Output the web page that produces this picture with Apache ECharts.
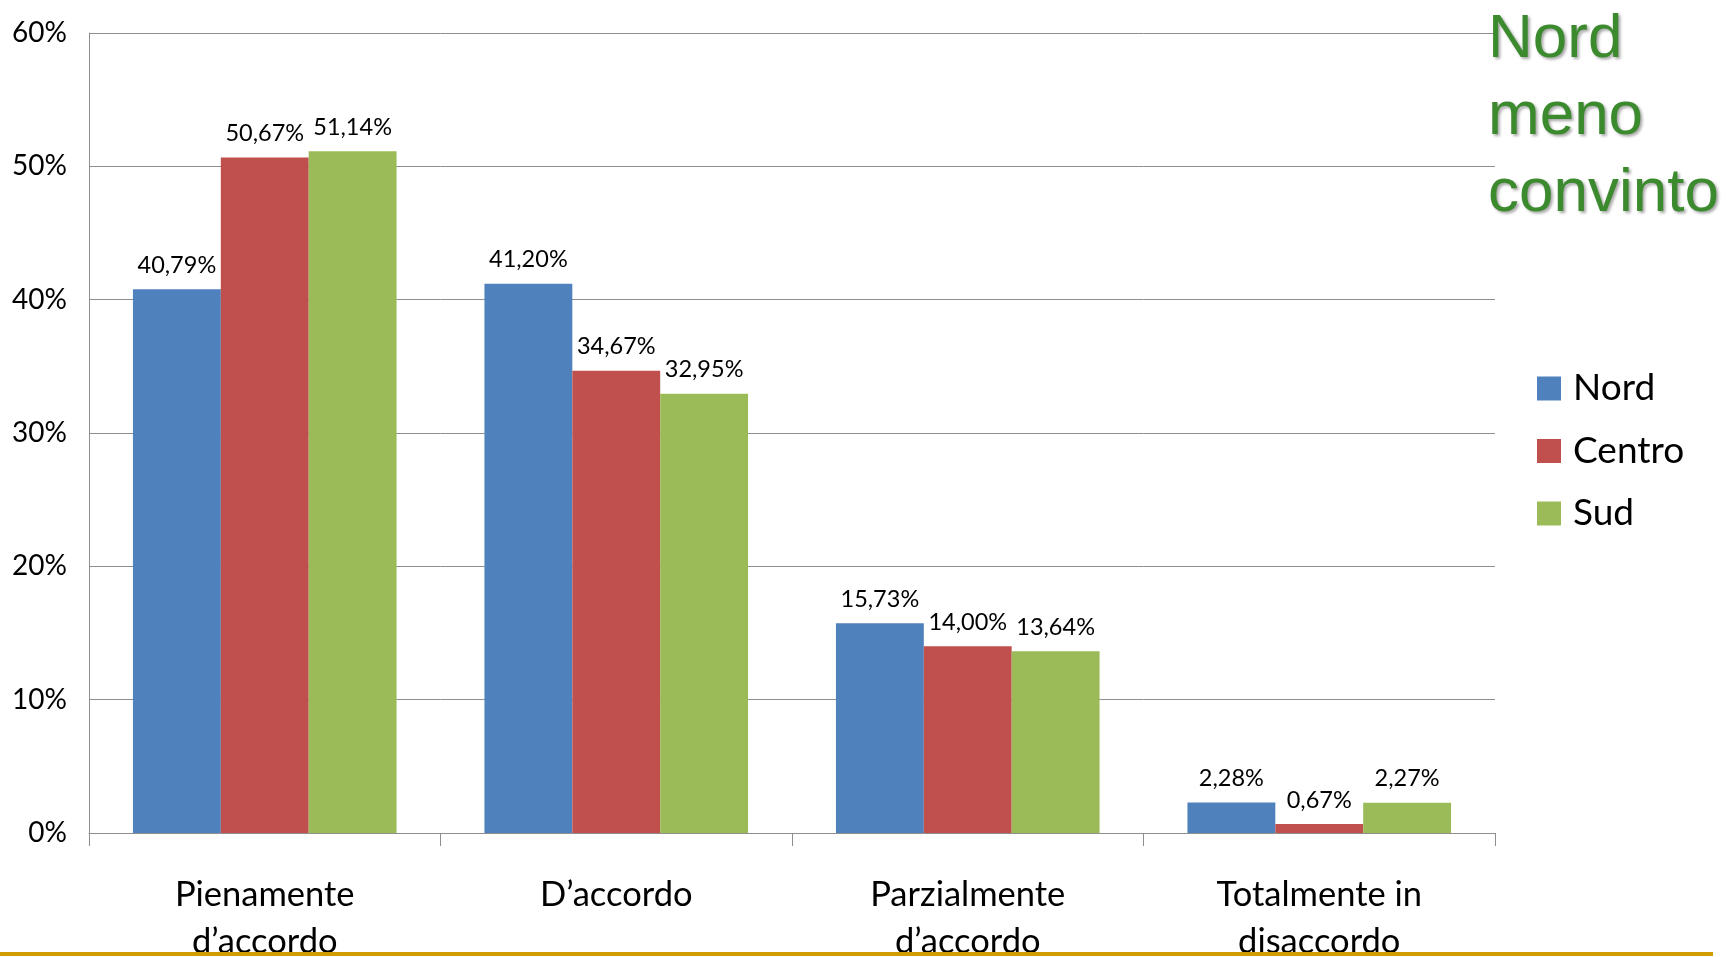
<!DOCTYPE html>
<html>
<head>
<meta charset="utf-8">
<script src="https://cdn.jsdelivr.net/npm/echarts@6/dist/echarts.min.js"></script>
<style>
html,body{margin:0;padding:0;background:#fff;}
#chart{width:1726px;height:957px;}
</style>
</head>
<body>
<div id="chart"></div>
<script>
const categories = ["Pienamente\nd\u2019accordo", "D\u2019accordo", "Parzialmente\nd\u2019accordo", "Totalmente in\ndisaccordo"];
const seriesNames = ["Nord", "Centro", "Sud"];
const nordValues = [40.79, 41.20, 15.73, 2.28];
const centroValues = [50.67, 34.67, 14.00, 0.67];
const sudValues = [51.14, 32.95, 13.64, 2.27];
const yTicks = [0, 10, 20, 30, 40, 50, 60];
const titleText = "Nord\nmeno\nconvinto";

const colors = ["#4F81BD", "#C0504D", "#9BBB59"];
const allValues = [nordValues, centroValues, sudValues];

const chart = echarts.init(document.getElementById('chart'), null, {renderer: 'canvas'});

const fmt = v => v.toFixed(2).replace('.', ',') + '%';

const option = {
  animation: false,
  backgroundColor: '#ffffff',
  title: {
    text: titleText,
    left: 1483,
    top: -4,
    textStyle: {
      fontFamily: '"Liberation Sans", Arial, sans-serif',
      fontSize: 62,
      fontWeight: 'normal',
      color: '#3C8A2E',
      lineHeight: 77,
      textShadowColor: 'rgba(0,0,0,0.35)',
      textShadowBlur: 3,
      textShadowOffsetX: 2,
      textShadowOffsetY: 2
    }
  },
  legend: {
    orient: 'vertical',
    left: 1532,
    top: 365,
    icon: 'rect',
    itemWidth: 24,
    itemHeight: 24,
    itemGap: 25.5,
    data: seriesNames,
    textStyle: {
      fontFamily: 'Lato, "Noto Sans", sans-serif',
      fontSize: 37,
      color: '#000',
      padding: [0, 0, 0, 7]
    }
  },
  grid: {
    left: 89,
    right: 231,
    top: 33,
    bottom: 124,
    containLabel: false,
    outerBoundsMode: 'none'
  },
  xAxis: {
    type: 'category',
    data: categories,
    axisLine: {show: true, lineStyle: {color: '#8E8E8E', width: 1}},
    axisTick: {show: true, length: 13, alignWithLabel: false, lineStyle: {color: '#8E8E8E'}},
    axisLabel: {
      margin: 38,
      fontFamily: 'Lato, "Noto Sans", sans-serif',
      fontSize: 34.5,
      color: '#000',
      lineHeight: 47.5,
      interval: 0
    },
    splitLine: {show: false}
  },
  yAxis: {
    type: 'value',
    min: yTicks[0],
    max: yTicks[yTicks.length - 1],
    interval: 10,
    axisLine: {show: true, lineStyle: {color: '#8E8E8E', width: 1}},
    axisTick: {show: false},
    axisLabel: {
      formatter: '{value}%',
      margin: 22,
      fontFamily: 'Lato, "Noto Sans", sans-serif',
      fontSize: 28,
      color: '#000'
    },
    splitLine: {show: true, lineStyle: {color: '#8E8E8E', width: 1}}
  },
  series: seriesNames.map((name, i) => ({
    name: name,
    type: 'bar',
    data: allValues[i],
    barGap: '0%',
    barCategoryGap: '25%',
    itemStyle: {color: colors[i]},
    label: {
      show: true,
      position: 'top',
      distance: 12,
      formatter: p => fmt(p.value),
      fontFamily: 'Lato, "Noto Sans", sans-serif',
      fontSize: 23.5,
      color: '#000'
    }
  })),
  graphic: [{
    type: 'rect',
    left: 0,
    top: 952,
    shape: {width: 1713, height: 4},
    style: {fill: '#D09C00'},
    z: 100
  }]
};
chart.setOption(option);
</script>
</body>
</html>
